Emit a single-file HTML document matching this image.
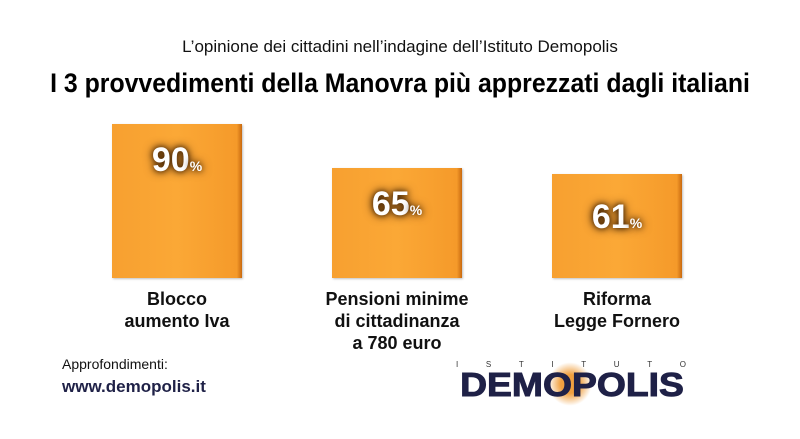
<!DOCTYPE html>
<html><head><meta charset="utf-8"><style>
body{margin:0;width:800px;height:439px;background:#fff;position:relative;overflow:hidden;font-family:"Liberation Sans",sans-serif}
.a{position:absolute}
.bar{position:absolute;width:130px;background:linear-gradient(90deg,#f7a030,#fba836 50%,#f59a2a 96%,#c96a10);box-shadow:1px 1px 2px rgba(0,0,0,.25)}
.v{position:absolute;left:0;width:100%;text-align:center;color:#fff;font-weight:bold;font-size:34px;text-shadow:0 0 6px #3a1c00,0 0 10px #3a1c00}
.v small{font-size:14px}
.l{position:absolute;width:220px;text-align:center;font-weight:bold;font-size:18px;line-height:22px;color:#111}
</style></head><body>
<div class="a" style="left:0;width:800px;top:37px;text-align:center;font-size:17px;color:#111">L’opinione dei cittadini nell’indagine dell’Istituto Demopolis</div>
<div class="a" style="left:0;width:800px;top:68px;text-align:center;font-size:27px;font-weight:bold;color:#000;transform:scaleX(.92)">I 3 provvedimenti della Manovra più apprezzati dagli italiani</div>
<div class="bar" style="left:112px;top:124px;height:154px"><div class="v" style="top:17px">90<small>%</small></div></div>
<div class="bar" style="left:332px;top:168px;height:110px"><div class="v" style="top:17px">65<small>%</small></div></div>
<div class="bar" style="left:552px;top:174px;height:104px"><div class="v" style="top:24px">61<small>%</small></div></div>
<div class="l" style="left:67px;top:288px">Blocco<br>aumento Iva</div>
<div class="l" style="left:287px;top:288px">Pensioni minime<br>di cittadinanza<br>a 780 euro</div>
<div class="l" style="left:507px;top:288px">Riforma<br>Legge Fornero</div>
<div class="a" style="left:62px;top:356px;font-size:14px;color:#111">Approfondimenti:</div>
<div class="a" style="left:62px;top:377px;font-size:17px;font-weight:bold;color:#1f2147">www.demopolis.it</div>
<div class="a" style="left:456px;top:360px;width:230px;display:flex;justify-content:space-between;font-size:8px;color:#333"><span>I</span><span>S</span><span>T</span><span>I</span><span>T</span><span>U</span><span>T</span><span>O</span></div>
<div class="a" style="left:548px;top:362px;width:44px;height:44px;border-radius:50%;background:radial-gradient(#f0a040 30%,rgba(240,160,64,0) 70%)"></div>
<div class="a" style="left:452px;top:366px;width:240px;text-align:center;font-size:33px;font-weight:900;color:#1f2147;transform:scaleX(1.13);-webkit-text-stroke:1px #1f2147">DEMOPOLIS</div>
</body></html>
